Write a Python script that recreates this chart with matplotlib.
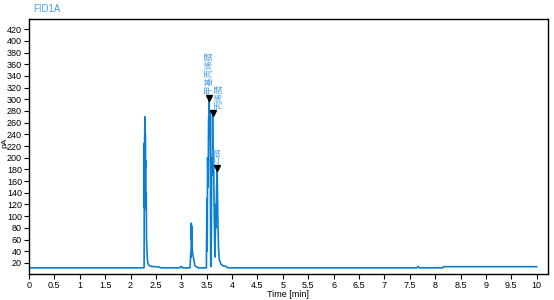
import matplotlib
matplotlib.use('Agg')
import matplotlib.pyplot as plt
import numpy as np

plt.rcParams['font.family'] = ['Liberation Sans', 'DejaVu Sans']

# chromatogram trace (time in min, signal in pA)
times = [0.0, 2.26, 2.268, 2.270, 2.274, 2.278, 2.283, 2.287, 2.291, 2.296,
         2.300, 2.305, 2.310, 2.315, 2.320, 2.326, 2.332, 2.340, 2.36, 2.40,
         2.56, 2.60, 2.97, 2.985, 3.01, 3.02, 3.17, 3.189, 3.193, 3.197,
         3.202, 3.208, 3.215, 3.225, 3.235, 3.248, 3.268, 3.333,
         3.494, 3.504, 3.510, 3.518, 3.528, 3.537, 3.549, 3.559, 3.569,
         3.579, 3.589, 3.598, 3.608, 3.616, 3.626, 3.636, 3.646, 3.656,
         3.665, 3.675, 3.685, 3.695, 3.707, 3.717, 3.726, 3.736, 3.75,
         3.78, 3.82, 3.88, 3.92, 7.64, 7.665, 7.69, 8.15, 8.16, 10.0]
signal = [11.5, 11.5, 12, 225, 115, 232, 270, 120, 240, 185,
          195, 112, 140, 60, 48, 38, 26, 20, 16, 14,
          13, 11.5, 11.5, 13.5, 13.5, 11.5, 11.5, 39, 30, 88,
          60, 82, 45, 35, 31, 25, 15, 11.5,
          11.5, 130, 40, 200, 150, 260, 298, 230, 280,
          14, 14, 200, 170, 272, 190, 200, 120, 60,
          30, 120, 80, 150, 177, 110, 70, 40, 25,
          18, 15, 14, 11.5, 11.5, 14, 11.5, 11.5, 13.5, 13.5]

# annotated peaks
peak_times = [3.552, 3.618, 3.710]
peak_heights = [298, 272, 178]
peak_names = ['甲基丙烯腈', '丙烯腈', '乙腈']
name_x = [3.54, 3.74, 3.70]

x_ticks = np.arange(0, 10.01, 0.5)
x_tick_labels = ['0', '0.5', '1', '1.5', '2', '2.5', '3', '3.5', '4', '4.5',
                 '5', '5.5', '6', '6.5', '7', '7.5', '8', '8.5', '9', '9.5', '10']
y_ticks = list(range(20, 421, 20))

line_color = '#0a7fd2'
label_color = '#4a9ee6'

fig = plt.figure(figsize=(5.54, 3.0), dpi=100)
ax = fig.add_axes([0.0523, 0.0867, 0.9367, 0.851])

ax.plot(times, signal, color=line_color, linewidth=1.2)

ax.plot(peak_times, [h + 4 for h in peak_heights], linestyle='none',
        marker='v', markersize=4.5, color='black')
for nx, h, name in zip(name_x, peak_heights, peak_names):
    ax.text(nx, h + 12, name, rotation=90, ha='center', va='bottom',
            fontsize=6, color=label_color,
            family=['Noto Sans CJK SC', 'DejaVu Sans'])

ax.set_xlim(0, 10.22)
ax.set_ylim(1, 438)
ax.set_xticks(x_ticks)
ax.set_xticklabels(x_tick_labels)
ax.set_yticks(y_ticks)
ax.tick_params(axis='both', labelsize=6.5, length=3.5, width=0.8, pad=1.5,
               direction='out')
for sp in ax.spines.values():
    sp.set_linewidth(1.0)
    sp.set_color('black')

ax.set_xlabel('Time [min]', fontsize=6.5, labelpad=0)
fig.text(0.008, 0.523, 'pA', rotation=90, fontsize=6, ha='center', va='center')
fig.text(0.06, 0.97, 'FID1A', fontsize=7, color=label_color, ha='left', va='center')

plt.savefig('out.png', dpi=100)
